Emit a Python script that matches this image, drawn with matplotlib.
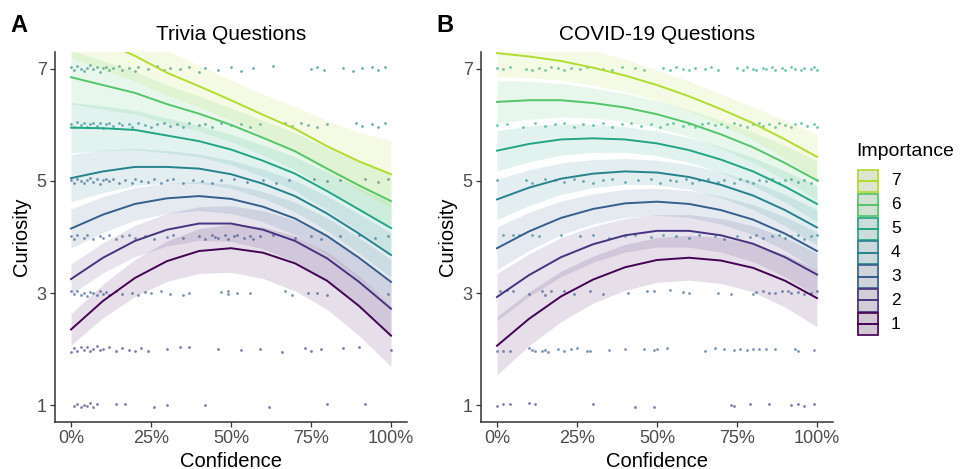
import numpy as np
import matplotlib
matplotlib.use('Agg')
import matplotlib.pyplot as plt
from matplotlib.patches import Rectangle
from matplotlib.ticker import PercentFormatter

plt.rcParams['font.family'] = ['Liberation Sans', 'DejaVu Sans']

# ----------------------------------------------------------------
# data
# ----------------------------------------------------------------
conf_grid = [0, 10, 20, 30, 40, 50, 60, 70, 80, 90, 100]   # percent
importance = [1, 2, 3, 4, 5, 6, 7]
curiosity_ticks = [1, 3, 5, 7]
confidence_ticks = [0, 25, 50, 75, 100]
panel_titles = ['Trivia Questions', 'COVID-19 Questions']
panel_letters = ['A', 'B']

# fitted curiosity per importance level (1..7) on conf_grid
trivia_fit = [
    [2.35, 2.86, 3.27, 3.57, 3.75, 3.80, 3.72, 3.53, 3.22, 2.77, 2.24],
    [3.25, 3.63, 3.93, 4.13, 4.24, 4.24, 4.13, 3.93, 3.62, 3.20, 2.72],
    [4.15, 4.40, 4.59, 4.69, 4.73, 4.68, 4.54, 4.33, 4.02, 3.63, 3.20],
    [5.05, 5.17, 5.25, 5.25, 5.22, 5.12, 4.95, 4.73, 4.42, 4.06, 3.68],
    [5.95, 5.94, 5.91, 5.81, 5.71, 5.56, 5.36, 5.13, 4.82, 4.49, 4.16],
    [6.85, 6.71, 6.57, 6.37, 6.20, 6.00, 5.77, 5.53, 5.22, 4.92, 4.64],
    [7.75, 7.48, 7.23, 6.93, 6.69, 6.44, 6.18, 5.93, 5.62, 5.35, 5.12],
]
# half width of the confidence ribbon
trivia_band = [
    [.28, .30, .33, .36, .40, .43, .46, .49, .51, .53, .55],
    [.27, .27, .28, .29, .30, .32, .34, .37, .40, .44, .48],
    [.35, .32, .29, .27, .26, .26, .27, .29, .32, .36, .40],
    [.42, .38, .33, .29, .26, .25, .26, .28, .31, .35, .40],
    [.45, .40, .35, .31, .28, .27, .28, .30, .34, .39, .45],
    [.48, .43, .38, .34, .31, .30, .31, .33, .37, .43, .50],
    [.55, .50, .45, .40, .37, .36, .37, .40, .45, .52, .60],
]
covid_fit = [
    [2.06, 2.54, 2.94, 3.24, 3.46, 3.59, 3.63, 3.58, 3.45, 3.22, 2.91],
    [2.93, 3.32, 3.64, 3.87, 4.03, 4.11, 4.11, 4.03, 3.88, 3.64, 3.33],
    [3.80, 4.10, 4.34, 4.50, 4.60, 4.63, 4.59, 4.48, 4.31, 4.06, 3.75],
    [4.67, 4.88, 5.04, 5.13, 5.17, 5.15, 5.07, 4.93, 4.74, 4.48, 4.17],
    [5.54, 5.66, 5.74, 5.76, 5.74, 5.67, 5.55, 5.38, 5.17, 4.90, 4.59],
    [6.41, 6.44, 6.44, 6.39, 6.31, 6.19, 6.03, 5.83, 5.60, 5.32, 5.01],
    [7.28, 7.22, 7.14, 7.02, 6.88, 6.71, 6.51, 6.28, 6.03, 5.74, 5.43],
]
covid_band = [
    [.52, .48, .45, .42, .41, .40, .40, .41, .43, .47, .51],
    [.42, .38, .35, .32, .30, .29, .29, .30, .32, .35, .38],
    [.38, .34, .30, .27, .25, .24, .24, .25, .27, .30, .34],
    [.36, .32, .28, .25, .23, .22, .22, .23, .25, .28, .32],
    [.36, .32, .28, .25, .23, .22, .22, .23, .25, .28, .32],
    [.38, .34, .30, .27, .25, .24, .24, .25, .27, .31, .35],
    [.42, .38, .34, .31, .29, .27, .27, .27, .29, .34, .40],
]

# jittered raw responses: (confidence %, vertical jitter in 1/100) per curiosity level
a1_pts = [(1, -2), (2, 3), (3, -4), (4, 1), (5, -1), (6, 4), (7, -3), (8, 2), (14, 3), (17, 2),
          (26, -4), (30, 1), (42, 0), (62, -3), (80, 2), (92, 3)]
a2_pts = [(0, -5), (1, 2), (2, -3), (3, 4), (4, -1), (5, 3), (6, -4), (7, 0), (8, 5), (9, -2),
          (10, 1), (12, 4), (14, -3), (16, 2), (18, -1), (20, -3), (22, 2), (24, -4), (30, 1),
          (34, 3), (37, 4), (46, 1), (53, -2), (59, 1), (66, -5), (73, 2), (75, -4), (78, 1),
          (85, 2), (90, 3), (100, -2)]
a3_pts = [(0, 3), (1, -2), (2, 4), (3, -3), (4, 1), (5, -5), (6, 2), (7, 0), (8, -4), (9, 3),
          (10, -1), (11, 2), (12, -3), (14, 4), (16, -2), (19, 1), (21, -3), (23, 2), (25, 0),
          (28, 3), (31, -2), (35, -4), (37, 1), (47, 2), (49, 3), (49, -2), (52, 1), (56, 0),
          (67, 3), (69, -3), (74, 1), (77, 0), (80, -3), (99, -1)]
a4_pts = [(0, 2), (1, -3), (2, 4), (4, -1), (5, 3), (7, -4), (9, 2), (10, -1), (12, 3), (14, -3),
          (16, 1), (18, 4), (20, -2), (23, 2), (26, -3), (30, 0), (32, 3), (35, -2), (40, 1),
          (42, -3), (44, 4), (45, 0), (46, -2), (48, 3), (49, -4), (51, 1), (52, 4), (54, -2),
          (56, 2), (57, -3), (59, 1), (63, 3), (70, -1), (75, 2), (78, -3), (84, 1), (90, 3),
          (95, -2), (99, 2)]
a5_pts = [(0, 1), (1, -3), (2, 4), (3, 0), (4, -4), (5, 2), (6, 5), (7, -2), (8, 3), (9, -5),
          (10, 1), (11, 4), (12, -1), (13, 3), (15, -3), (17, 2), (19, -4), (20, 3), (22, 0),
          (24, -2), (26, 4), (28, -3), (30, 1), (32, 3), (35, -4), (38, 2), (41, 0), (44, -3),
          (47, 1), (51, 4), (55, -2), (60, 2), (64, -4), (68, 1), (76, 3), (80, -1), (84, 2),
          (92, 3), (96, -2), (99, 4)]
a6_pts = [(0, 2), (1, -3), (2, 5), (3, -1), (4, 3), (5, -4), (6, 1), (7, 4), (8, -2), (9, 3),
          (10, -5), (11, 1), (12, 3), (13, -2), (15, 4), (16, -1), (18, 2), (19, -4), (21, 3),
          (23, 0), (25, -3), (27, 2), (29, 4), (31, -2), (33, 1), (35, -4), (37, 3), (40, 0),
          (42, 2), (44, -3), (47, 4), (50, -1), (53, 2), (56, -4), (59, 1), (67, 3), (69, -2),
          (72, 4), (74, 0), (77, -3), (80, 2), (89, 4), (91, -2), (94, 1), (96, -3), (98, 3)]
a7_pts = [(0, 3), (1, -2), (2, 5), (3, 0), (4, -4), (5, 2), (6, 6), (7, -1), (8, 3), (9, -5),
          (10, 1), (11, 4), (12, -3), (13, 2), (15, 5), (16, -2), (18, 1), (20, -4), (21, 3),
          (24, 0), (27, 5), (29, -3), (31, 2), (34, -1), (37, 4), (40, -5), (42, 1), (46, -2),
          (50, 3), (53, -4), (57, 2), (63, 5), (75, -1), (77, 3), (79, -3), (85, 2), (88, -4),
          (91, 1), (94, 3), (96, -2), (98, 4)]

b1_pts = [(0, -2), (2, 2), (4, 3), (10, 4), (12, 3), (30, 2), (43, -3), (49, -3), (73, 1),
          (74, -2), (79, 3), (85, 2), (92, 1), (94, 2), (96, -1), (99, 2)]
b2_pts = [(0, -4), (2, -4), (4, -3), (10, 2), (11, -1), (12, -3), (14, -4), (15, -2), (16, -5),
          (19, 0), (21, -3), (23, 1), (25, 2), (28, -3), (29, -4), (35, -2), (40, 1), (46, 1),
          (49, -2), (50, 0), (53, 2), (65, -3), (68, 2), (71, 0), (74, -1), (76, 1), (78, -1),
          (80, 1), (82, 0), (84, 1), (87, 1), (93, 1), (94, -3), (99, -2)]
b3_pts = [(1, 3), (3, 5), (5, 4), (10, -1), (14, 3), (15, -4), (17, 3), (21, 4), (24, -2), (29, 4),
          (33, -1), (41, 1), (47, 4), (49, 4), (54, 5), (58, 2), (60, 0), (69, 1), (73, -2),
          (80, -1), (81, 2), (83, 3), (85, 0), (87, 1), (89, 3), (91, 4), (92, 0), (94, 2),
          (96, -2), (98, 1), (100, 3)]
b4_pts = [(2, 4), (5, 3), (7, 3), (11, 4), (13, 2), (20, 3), (26, 1), (30, 4), (35, -2), (40, 2),
          (43, 3), (48, 0), (52, 4), (56, 2), (60, -1), (63, 3), (68, 1), (71, -3), (75, 2),
          (79, 0), (81, 3), (83, -2), (86, 1), (88, 4), (90, -1), (92, 2), (94, 4), (96, -3),
          (98, 1), (100, 3)]
b5_pts = [(0, 2), (9, 1), (11, -3), (15, 4), (18, 2), (21, -2), (24, 3), (27, 0), (30, -4),
          (33, 2), (36, 3), (40, -2), (44, 1), (48, 4), (51, -3), (54, 2), (56, -1), (59, 3),
          (61, -4), (63, 1), (66, 3), (69, -2), (71, 2), (74, -3), (76, 3), (78, 0), (80, -4),
          (82, 2), (84, -1), (86, 3), (88, -3), (90, 1), (92, 4), (94, -2), (96, 2), (98, -3),
          (100, 1)]
b6_pts = [(0, -1), (3, 2), (8, -3), (12, 3), (15, -2), (18, 1), (21, 4), (24, -3), (27, 2),
          (30, -1), (33, 3), (36, -4), (39, 1), (42, 3), (45, -2), (48, 2), (51, -4), (53, 1),
          (55, 4), (58, -2), (60, 2), (62, -3), (64, 1), (66, 4), (68, -1), (70, 2), (72, -4),
          (74, 3), (76, 0), (78, -3), (80, 2), (82, 4), (83, -2), (85, 1), (87, -4), (88, 3),
          (90, 0), (92, -3), (93, 2), (95, 4), (97, -2), (99, 1), (100, -3)]
b7_pts = [(0, 2), (2, -1), (4, 3), (9, 0), (11, -3), (13, 2), (15, -2), (17, 4), (19, 1),
          (21, -3), (23, 2), (26, -1), (28, 3), (33, 0), (36, -2), (39, 3), (43, 1), (46, -3),
          (52, 2), (54, -2), (56, 3), (58, 0), (60, -3), (62, 2), (65, -1), (67, 3), (69, -2),
          (75, 1), (77, -2), (78, 3), (80, 0), (81, -3), (83, 2), (84, -1), (86, 3), (87, -3),
          (89, 1), (90, -2), (92, 3), (93, 0), (95, -3), (96, 2), (98, -1), (99, 3), (100, -2)]

# colour index (importance) typical for the dots on each curiosity row
trivia_dot_imp = [2, 2, 3, 3, 3, 4, 4]
covid_dot_imp = [2, 3, 3, 4, 4, 5, 5]

trivia_points = [a1_pts, a2_pts, a3_pts, a4_pts, a5_pts, a6_pts, a7_pts]
covid_points = [b1_pts, b2_pts, b3_pts, b4_pts, b5_pts, b6_pts, b7_pts]

# ----------------------------------------------------------------
# style
# ----------------------------------------------------------------
W, H = 960, 469
colors = plt.cm.viridis(np.linspace(0, 0.88, 7))
TICK_GREY = '#4D4D4D'
AXIS_DARK = '#333333'
RIBBON_ALPHA = 0.13

fig = plt.figure(figsize=(W / 100, H / 100), dpi=100)


def px_box(left, top, right, bottom):
    return [left / W, 1 - bottom / H, (right - left) / W, (bottom - top) / H]


def draw_panel(ax, fit, band, points, dot_imp, title):
    x = np.array(conf_grid) / 100
    for lvl, pts in enumerate(points):
        cx = [p[0] / 100 for p in pts]
        cy = [lvl + 1 + p[1] / 100 for p in pts]
        ax.scatter(cx, cy, s=4, color=colors[dot_imp[lvl] - 1], alpha=0.65,
                   linewidths=0, zorder=1)
    for i in range(len(importance)):
        mid = np.array(fit[i])
        hw = np.array(band[i])
        ax.fill_between(x, mid - hw, mid + hw, color=colors[i], alpha=RIBBON_ALPHA,
                        linewidth=0, zorder=2)
        ax.plot(x, mid, color=colors[i], lw=1.4, zorder=3)

    ax.set_xlim(-0.05, 1.05)
    ax.set_ylim(0.7, 7.3)
    ax.set_xticks(np.array(confidence_ticks) / 100)
    ax.xaxis.set_major_formatter(PercentFormatter(xmax=1, decimals=0))
    ax.set_yticks(curiosity_ticks)
    ax.tick_params(axis='both', labelsize=13, labelcolor=TICK_GREY, color=AXIS_DARK,
                   length=3.5, width=0.9, pad=2.5)
    for side in ['top', 'right']:
        ax.spines[side].set_visible(False)
    for side in ['left', 'bottom']:
        ax.spines[side].set_color(AXIS_DARK)
        ax.spines[side].set_linewidth(1.1)
    ax.set_xlabel('Confidence', fontsize=14.5, labelpad=3)
    ax.set_ylabel('Curiosity', fontsize=14.5, labelpad=4)
    ax.set_title(title, fontsize=15, pad=9)


ax_a = fig.add_axes(px_box(55, 52, 407, 422))
ax_b = fig.add_axes(px_box(481, 52, 833, 422))
draw_panel(ax_a, trivia_fit, trivia_band, trivia_points, trivia_dot_imp, panel_titles[0])
draw_panel(ax_b, covid_fit, covid_band, covid_points, covid_dot_imp, panel_titles[1])

# overlay for panel letters and legend, in pixel units
ov = fig.add_axes([0, 0, 1, 1])
ov.set_xlim(0, W)
ov.set_ylim(H, 0)
ov.axis('off')

ov.text(10, 26, panel_letters[0], fontsize=17, fontweight='bold', va='center', ha='left')
ov.text(436, 26, panel_letters[1], fontsize=17, fontweight='bold', va='center', ha='left')

ov.text(856, 152, 'Importance', fontsize=14, va='center', ha='left')
key_top, key_h, key_x, key_w = 169, 23.9, 857, 22
for k, lvl in enumerate(importance[::-1]):
    c = colors[lvl - 1]
    y0 = key_top + k * key_h
    ov.add_patch(Rectangle((key_x, y0), key_w, key_h, facecolor='#E6E6E6',
                           edgecolor='none', zorder=1))
    ov.add_patch(Rectangle((key_x, y0), key_w, key_h, facecolor=c, alpha=RIBBON_ALPHA,
                           edgecolor='none', zorder=2))
    ov.add_patch(Rectangle((key_x + 0.8, y0 + 0.8), key_w - 1.6, key_h - 1.6,
                           facecolor='none', edgecolor=c, lw=1.2, zorder=3))
    ov.plot([key_x + 1, key_x + key_w - 1], [y0 + key_h / 2] * 2, color=c, lw=1.4, zorder=4)
    ov.text(891, y0 + key_h / 2, str(lvl), fontsize=12.5, va='center', ha='left')

fig.savefig('out.png', dpi=100)
